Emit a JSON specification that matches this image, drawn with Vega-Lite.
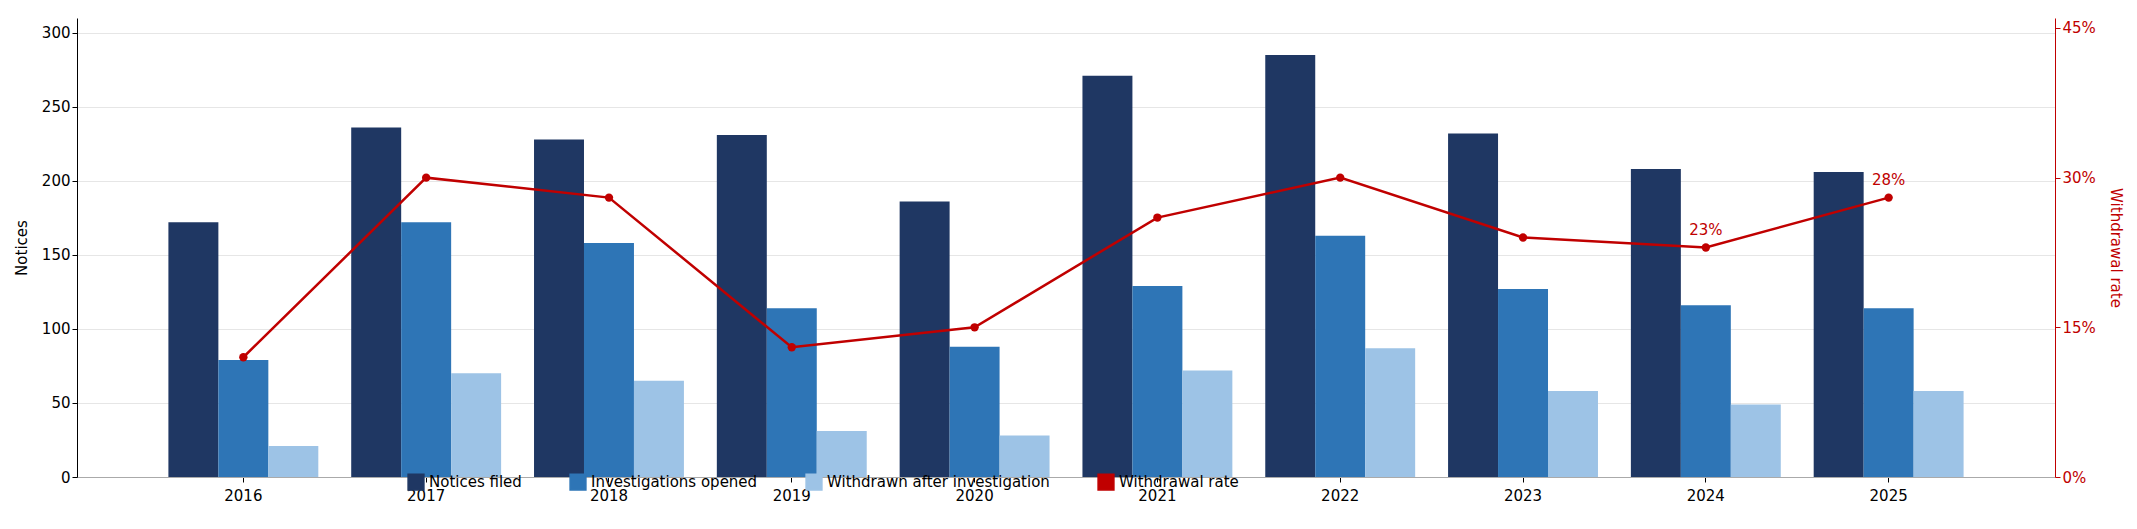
{
  "$schema": "https://vega.github.io/schema/vega-lite/v6.json",
  "width": 2137,
  "height": 529,
  "autosize": {"type": "fit", "contains": "padding"},
  "background": "white",
  "padding": {"left": 14, "right": 14, "top": 18, "bottom": 26},
  "config": {
    "view": {"stroke": null},
    "font": "DejaVu Sans",
    "axis": {"labelFont": "DejaVu Sans", "titleFont": "DejaVu Sans", "labelFontSize": 15, "titleFontSize": 15, "titleFontWeight": "normal", "labelColor": "#000", "titleColor": "#000"},
    "legend": {"labelFont": "DejaVu Sans", "labelFontSize": 15, "labelLimit": 400}
  },
  "datasets": {
    "bars": [
      {"year": "2016", "series": "Notices filed", "value": 172},
      {"year": "2017", "series": "Notices filed", "value": 236},
      {"year": "2018", "series": "Notices filed", "value": 228},
      {"year": "2019", "series": "Notices filed", "value": 231},
      {"year": "2020", "series": "Notices filed", "value": 186},
      {"year": "2021", "series": "Notices filed", "value": 271},
      {"year": "2022", "series": "Notices filed", "value": 285},
      {"year": "2023", "series": "Notices filed", "value": 232},
      {"year": "2024", "series": "Notices filed", "value": 208},
      {"year": "2025", "series": "Notices filed", "value": 206},
      {"year": "2016", "series": "Investigations opened", "value": 79},
      {"year": "2017", "series": "Investigations opened", "value": 172},
      {"year": "2018", "series": "Investigations opened", "value": 158},
      {"year": "2019", "series": "Investigations opened", "value": 114},
      {"year": "2020", "series": "Investigations opened", "value": 88},
      {"year": "2021", "series": "Investigations opened", "value": 129},
      {"year": "2022", "series": "Investigations opened", "value": 163},
      {"year": "2023", "series": "Investigations opened", "value": 127},
      {"year": "2024", "series": "Investigations opened", "value": 116},
      {"year": "2025", "series": "Investigations opened", "value": 114},
      {"year": "2016", "series": "Withdrawn after investigation", "value": 21},
      {"year": "2017", "series": "Withdrawn after investigation", "value": 70},
      {"year": "2018", "series": "Withdrawn after investigation", "value": 65},
      {"year": "2019", "series": "Withdrawn after investigation", "value": 31},
      {"year": "2020", "series": "Withdrawn after investigation", "value": 28},
      {"year": "2021", "series": "Withdrawn after investigation", "value": 72},
      {"year": "2022", "series": "Withdrawn after investigation", "value": 87},
      {"year": "2023", "series": "Withdrawn after investigation", "value": 58},
      {"year": "2024", "series": "Withdrawn after investigation", "value": 49},
      {"year": "2025", "series": "Withdrawn after investigation", "value": 58}
    ],
    "rate": [
      {"year": "2016", "series": "Withdrawal rate", "rate": 0.12, "label": ""},
      {"year": "2017", "series": "Withdrawal rate", "rate": 0.30, "label": ""},
      {"year": "2018", "series": "Withdrawal rate", "rate": 0.28, "label": ""},
      {"year": "2019", "series": "Withdrawal rate", "rate": 0.13, "label": ""},
      {"year": "2020", "series": "Withdrawal rate", "rate": 0.15, "label": ""},
      {"year": "2021", "series": "Withdrawal rate", "rate": 0.26, "label": ""},
      {"year": "2022", "series": "Withdrawal rate", "rate": 0.30, "label": ""},
      {"year": "2023", "series": "Withdrawal rate", "rate": 0.24, "label": ""},
      {"year": "2024", "series": "Withdrawal rate", "rate": 0.23, "label": "23%"},
      {"year": "2025", "series": "Withdrawal rate", "rate": 0.28, "label": "28%"}
    ]
  },
  "encoding": {
    "x": {"field": "year", "type": "nominal", "title": null,
      "scale": {"paddingInner": 0.18, "paddingOuter": 0.5},
      "axis": {"labelAngle": 0, "domainColor": "#aaa", "tickColor": "#000", "tickSize": 5, "labelPadding": 6}}
  },
  "layer": [
    {
      "data": {"name": "bars"},
      "mark": {"type": "bar"},
      "encoding": {
        "xOffset": {"field": "series", "type": "nominal", "sort": ["Notices filed", "Investigations opened", "Withdrawn after investigation"]},
        "y": {"field": "value", "type": "quantitative", "title": "Notices",
          "scale": {"domain": [0, 310], "nice": false},
          "axis": {"values": [0, 50, 100, 150, 200, 250, 300], "gridColor": "#e6e6e6", "domainColor": "#000", "tickColor": "#000", "titlePadding": 12}},
        "color": {"field": "series", "type": "nominal",
          "scale": {"domain": ["Notices filed", "Investigations opened", "Withdrawn after investigation", "Withdrawal rate"],
            "range": ["#1f3763", "#2e75b6", "#9dc3e6", "#c00000"]},
          "legend": {"orient": "none", "legendX": 330, "legendY": 455, "title": null, "direction": "horizontal", "symbolType": "square", "symbolSize": 250, "columnPadding": 45}}
      }
    },
    {
      "data": {"name": "rate"},
      "encoding": {
        "y": {"field": "rate", "type": "quantitative", "title": "Withdrawal rate",
          "scale": {"domain": [0, 0.46], "nice": false},
          "axis": {"orient": "right", "values": [0, 0.15, 0.3, 0.45], "format": ".0%", "grid": false,
            "domainColor": "#c00000", "tickColor": "#c00000", "labelColor": "#c00000", "titleColor": "#c00000", "titlePadding": 12}},
        "color": {"field": "series", "type": "nominal"}
      },
      "layer": [
        {"mark": {"type": "line", "strokeWidth": 2.5}},
        {"mark": {"type": "point", "filled": true, "size": 70, "opacity": 1}},
        {"mark": {"type": "text", "dy": -18, "fontSize": 15, "color": "#c00000"},
          "encoding": {"text": {"field": "label"}}}
      ]
    }
  ],
  "resolve": {"scale": {"y": "independent"}}
}
